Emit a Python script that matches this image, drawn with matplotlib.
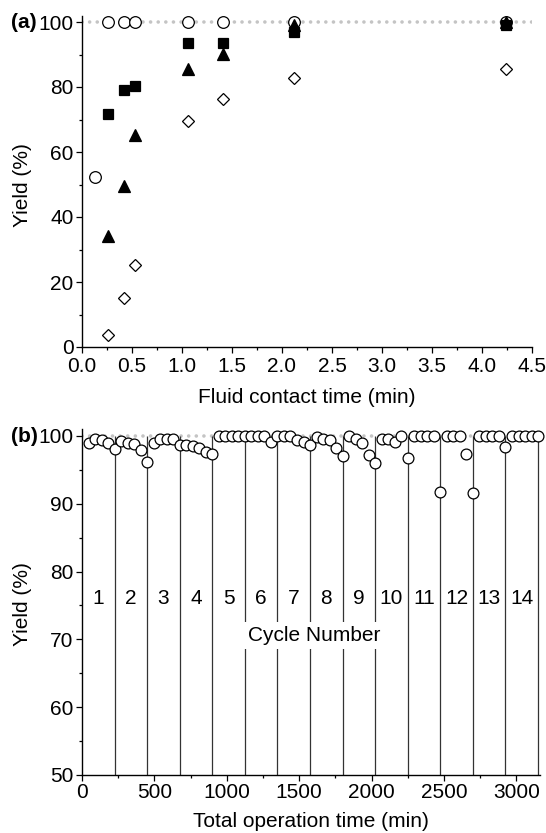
import matplotlib
matplotlib.use("Agg")
import matplotlib.pyplot as plt
from matplotlib.ticker import MultipleLocator

plt.rcParams['font.family'] = ['Liberation Sans', 'DejaVu Sans']

# ---------------- panel (a) data ----------------
contact_circle = [0.13, 0.26, 0.42, 0.53, 1.06, 1.41, 2.12, 4.24]
yield_circle = [52.2, 100, 100, 100, 100, 100, 100, 100]

contact_other = [0.26, 0.42, 0.53, 1.06, 1.41, 2.12, 4.24]
yield_square = [71.6, 79.0, 80.2, 93.4, 93.6, 96.8, 99.2]
yield_triangle = [34.3, 49.6, 65.2, 85.6, 90.2, 99.0, 100.0]
yield_diamond = [3.8, 15.1, 25.2, 69.5, 76.3, 82.9, 85.4]

# ---------------- panel (b) data ----------------
op_time = [45, 90, 135, 180, 225,
           270, 315, 360, 405, 450,
           495, 540, 585, 630, 675,
           720, 765, 810, 855, 900,
           945, 990, 1035, 1080, 1125,
           1170, 1215, 1260, 1305, 1350,
           1395, 1440, 1485, 1530, 1575,
           1620, 1665, 1710, 1755, 1800,
           1845, 1890, 1935, 1980, 2025,
           2070, 2115, 2160, 2205, 2250,
           2295, 2340, 2385, 2430, 2475,
           2520, 2565, 2610, 2655, 2700,
           2745, 2790, 2835, 2880, 2925,
           2970, 3015, 3060, 3105, 3150]
op_yield = [98.9, 99.6, 99.4, 99.0, 98.1,
            99.2, 99.0, 98.8, 98.0, 96.1,
            98.9, 99.5, 99.6, 99.6, 98.7,
            98.6, 98.5, 98.2, 97.6, 97.3,
            100, 100, 100, 100, 100,
            100, 100, 100, 99.1, 100,
            100, 100, 99.4, 99.1, 98.6,
            99.9, 99.6, 99.4, 98.3, 97.1,
            100, 99.5, 98.9, 97.2, 96.0,
            99.6, 99.5, 99.1, 100, 96.7,
            100, 100, 100, 100, 91.7,
            100, 100, 100, 97.3, 91.6,
            100, 100, 100, 100, 98.4,
            100, 100, 100, 100, 100]
cycle_ends = [225, 450, 675, 900, 1125, 1350, 1575, 1800, 2025, 2250,
              2475, 2700, 2925, 3150]
cycle_labels = ['1', '2', '3', '4', '5', '6', '7', '8', '9', '10',
                '11', '12', '13', '14']
cycle_label_x = [112.5, 337.5, 562.5, 787.5, 1012.5, 1237.5, 1462.5, 1687.5,
                 1912.5, 2137.5, 2362.5, 2587.5, 2812.5, 3037.5]

W, H = 546, 833
fig = plt.figure(figsize=(W / 100, H / 100), dpi=100)

FS = 15
DOT = dict(color='#c4c4c4', lw=2.6, linestyle=(0, (0.01, 2.1)),
           dash_capstyle='round', zorder=1)


def style_axes(ax):
    for s in ['top', 'right']:
        ax.spines[s].set_visible(False)
    for s in ['left', 'bottom']:
        ax.spines[s].set_linewidth(1.0)
    ax.tick_params(which='major', direction='out', length=4.5, width=0.9,
                   labelsize=FS, pad=1.5)
    ax.tick_params(which='minor', direction='out', length=2.5, width=0.9)


# ---------------- top axes ----------------
axA = fig.add_axes([82 / W, (H - 347) / H, 450 / W, 331.5 / H])
axA.set_xlim(0, 4.5)
axA.set_ylim(0, 102)
style_axes(axA)
axA.xaxis.set_major_locator(MultipleLocator(0.5))
axA.xaxis.set_minor_locator(MultipleLocator(0.25))
axA.yaxis.set_major_locator(MultipleLocator(20))
axA.yaxis.set_minor_locator(MultipleLocator(10))
axA.set_xticks([0, 0.5, 1, 1.5, 2, 2.5, 3, 3.5, 4, 4.5])
axA.set_xticklabels(['0.0', '0.5', '1.0', '1.5', '2.0', '2.5', '3.0', '3.5', '4.0', '4.5'])
axA.tick_params(axis='x', which='major', pad=2.5)
axA.axhline(100, **DOT)

mk = dict(linestyle='none', clip_on=False, markeredgewidth=0.9, zorder=3)
axA.plot(contact_circle, yield_circle, marker='o', markersize=8.4,
         markerfacecolor='white', markeredgecolor='black', **mk)
axA.plot(contact_other, yield_square, marker='s', markersize=6.8,
         markerfacecolor='black', markeredgecolor='black', **mk)
axA.plot(contact_other, yield_triangle, marker='^', markersize=8.5,
         markerfacecolor='black', markeredgecolor='black', **mk)
axA.plot(contact_other, yield_diamond, marker='D', markersize=6.2,
         markerfacecolor='white', markeredgecolor='black', **mk)
axA.set_xlabel('Fluid contact time (min)', fontsize=FS, labelpad=9)

# ---------------- bottom axes ----------------
axB = fig.add_axes([82 / W, 58 / H, 457.5 / W, 345.8 / H])
axB.set_xlim(0, 3160)
axB.set_ylim(50, 101)
style_axes(axB)
axB.xaxis.set_major_locator(MultipleLocator(500))
axB.xaxis.set_minor_locator(MultipleLocator(250))
axB.yaxis.set_major_locator(MultipleLocator(10))
axB.yaxis.set_minor_locator(MultipleLocator(5))
axB.axhline(100, **DOT)
axB.vlines(cycle_ends, 50, 100, colors='#333333', linewidth=0.9, zorder=2)
axB.plot(op_time, op_yield, marker='o', markersize=7.8, linestyle='none',
         markerfacecolor='white', markeredgecolor='black',
         markeredgewidth=0.9, clip_on=False, zorder=4)
for xl, lab in zip(cycle_label_x, cycle_labels):
    axB.text(xl, 76.0, lab, ha='center', va='center', fontsize=FS, zorder=5)
axB.text(1605, 70.6, 'Cycle Number', ha='center', va='center', fontsize=FS,
         zorder=5, bbox=dict(facecolor='white', edgecolor='none', pad=3.0))
axB.set_xlabel('Total operation time (min)', fontsize=FS, labelpad=7)

# y labels and panel tags
fig.text(22 / W, (H - 185) / H, 'Yield (%)', rotation=90, ha='center',
         va='center', fontsize=FS)
fig.text(22 / W, (H - 604) / H, 'Yield (%)', rotation=90, ha='center',
         va='center', fontsize=FS)
fig.text(11 / W, (H - 22.7) / H, '(a)', ha='left', va='center',
         fontsize=FS, fontweight='bold')
fig.text(11 / W, (H - 436) / H, '(b)', ha='left', va='center',
         fontsize=FS, fontweight='bold')

fig.savefig('out.png', dpi=100, facecolor='white')
